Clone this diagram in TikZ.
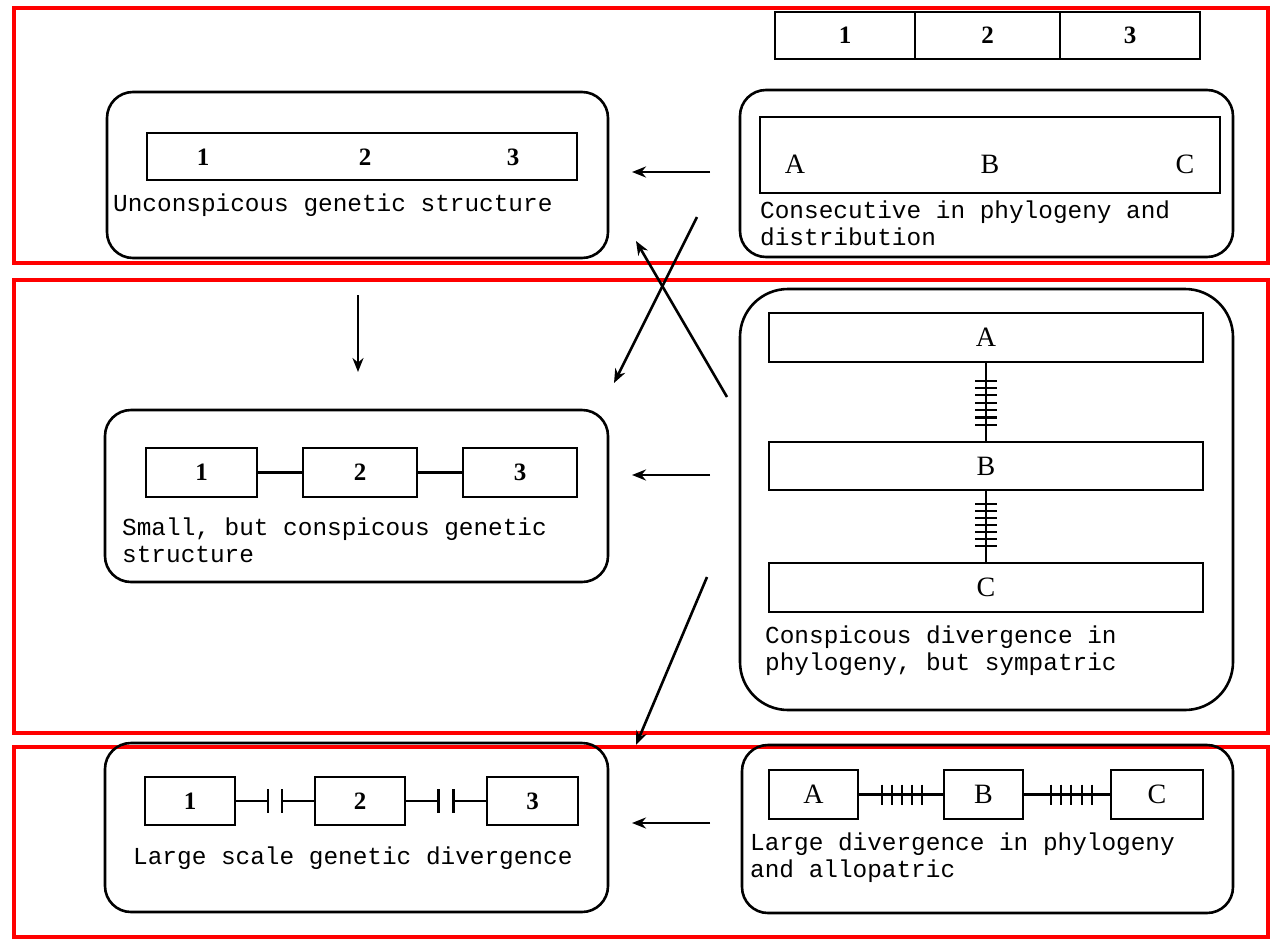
\documentclass[tikz,border=0pt]{standalone}
\usepackage{fontspec}
\setmainfont{Liberation Serif}
\newfontfamily\mymono{Liberation Mono}
\usetikzlibrary{arrows.meta,calc}
\begin{document}
\begin{tikzpicture}[x=1pt,y=-1pt,
  redframe/.style={draw=red, line width=4pt},
  rbox/.style={draw, line width=2.6pt, rounded corners=26pt, inner sep=0pt},
  cell/.style={draw, line width=2.2pt, inner sep=0pt},
  numtxt/.style={font=\fontsize{25}{25}\selectfont\bfseries, inner sep=0pt},
  lettxt/.style={font=\fontsize{28}{28}\selectfont, inner sep=0pt},
  lbl/.style={font=\mymono\fontsize{24.4}{27}\selectfont, align=left, anchor=base west, inner sep=0pt},
  arr/.style={line width=2.6pt, -{Stealth[length=14pt,width=11pt]}},
  linkline/.style={line width=2.2pt},
  tickmark/.style={line width=2.2pt}
]
\useasboundingbox (0,0) rectangle (1274,940);
\fill[white] (0,0) rectangle (1274,940);

% red frames
\draw[redframe] (14,8) rectangle (1268,263);
\draw[redframe] (14,280) rectangle (1268,733);
\draw[redframe] (14,747) rectangle (1268,937);

% top strip
\node[cell, minimum width=140pt, minimum height=47pt, numtxt] (s1) at (845,35.5) {1};
\node[cell, minimum width=145pt, minimum height=47pt, numtxt] (s2) at (987.5,35.5) {2};
\node[cell, minimum width=140pt, minimum height=47pt, numtxt] (s3) at (1130,35.5) {3};

% box 1
\node[rbox, minimum width=501pt, minimum height=166pt] (b1) at (357.5,175) {};
\node[cell, minimum width=430pt, minimum height=47pt] (r1) at (362,156.5) {};
\node[numtxt] (r1n1) at (203,157) {1};
\node[numtxt] (r1n2) at (365,157) {2};
\node[numtxt] (r1n3) at (513,157) {3};
\node[lbl] (t1) at (113,211) {Unconspicous genetic structure};

% box 2
\node[rbox, minimum width=493pt, minimum height=167pt] (b2) at (986.5,173.5) {};
\node[cell, minimum width=460pt, minimum height=76pt] (r2) at (990,155) {};
\node[lettxt] (r2a) at (795,164) {A};
\node[lettxt] (r2b) at (990,164) {B};
\node[lettxt] (r2c) at (1185,164) {C};
\node[lbl] (t2) at (760,245) {Consecutive in phylogeny and\\distribution};

% box 3
\node[rbox, rounded corners=48pt, minimum width=493pt, minimum height=421pt] (b3) at (986.5,499.5) {};
\node[cell, minimum width=434pt, minimum height=49pt, lettxt] (rA) at (986,337.5) {A};
\node[cell, minimum width=434pt, minimum height=48pt, lettxt] (rB) at (986,466) {B};
\node[cell, minimum width=434pt, minimum height=49pt, lettxt] (rC) at (986,587.5) {C};
\draw[linkline] (rA.south) -- (rB.north);
\draw[linkline] (rB.south) -- (rC.north);
\foreach \t in {0.225,0.32,0.415,0.51,0.605,0.70,0.795}
  \draw[tickmark] ($(rA.south)!\t!(rB.north)$) ++(-11,0) -- ++(22,0);
\foreach \t in {0.18,0.28,0.38,0.48,0.58,0.68,0.78}
  \draw[tickmark] ($(rB.south)!\t!(rC.north)$) ++(-11,0) -- ++(22,0);
\node[lbl] (t3) at (765,670) {Conspicous divergence in\\phylogeny, but sympatric};

% box 4
\node[rbox, minimum width=503pt, minimum height=172pt] (b4) at (356.5,496) {};
\node[cell, minimum width=111pt, minimum height=49pt, numtxt] (c1) at (201.5,472.5) {1};
\node[cell, minimum width=114pt, minimum height=49pt, numtxt] (c2) at (360,472.5) {2};
\node[cell, minimum width=114pt, minimum height=49pt, numtxt] (c3) at (520,472.5) {3};
\draw[linkline] (c1.east) -- (c2.west);
\draw[linkline] (c2.east) -- (c3.west);
\node[lbl] (t4) at (122,562) {Small, but conspicous genetic\\structure};

% box 5
\node[rbox, minimum width=503pt, minimum height=169pt] (b5) at (356.5,827.5) {};
\node[cell, minimum width=90pt, minimum height=48pt, numtxt] (d1) at (190,801) {1};
\node[cell, minimum width=90pt, minimum height=48pt, numtxt] (d2) at (360,801) {2};
\node[cell, minimum width=91pt, minimum height=48pt, numtxt] (d3) at (532.5,801) {3};
\coordinate (g1a) at ($(d1.east)!0.41!(d2.west)$);
\coordinate (g1b) at ($(d1.east)!0.59!(d2.west)$);
\coordinate (g2a) at ($(d2.east)!0.41!(d3.west)$);
\coordinate (g2b) at ($(d2.east)!0.59!(d3.west)$);
\draw[linkline] (d1.east) -- (g1a);
\draw[linkline] (g1b) -- (d2.west);
\draw[linkline] (d2.east) -- (g2a);
\draw[linkline] (g2b) -- (d3.west);
\foreach \c in {g1a,g1b,g2a,g2b}
  \draw[tickmark, line width=2.8pt] (\c) ++(0,-12) -- ++(0,24);
\node[lbl] (t5) at (133,864) {Large scale genetic divergence};

% box 6
\node[rbox, minimum width=491pt, minimum height=168pt] (b6) at (987.5,829) {};
\node[cell, minimum width=89pt, minimum height=49pt, lettxt] (e1) at (813.5,794.5) {A};
\node[cell, minimum width=79pt, minimum height=49pt, lettxt] (e2) at (983.5,794.5) {B};
\node[cell, minimum width=92pt, minimum height=49pt, lettxt] (e3) at (1157,794.5) {C};
\draw[linkline] (e1.east) -- (e2.west);
\draw[linkline] (e2.east) -- (e3.west);
\foreach \t in {0.27,0.39,0.51,0.63,0.75}
  \draw[tickmark] ($(e1.east)!\t!(e2.west)$) ++(0,-10) -- ++(0,20);
\foreach \t in {0.31,0.43,0.55,0.67,0.79}
  \draw[tickmark] ($(e2.east)!\t!(e3.west)$) ++(0,-10) -- ++(0,20);
\node[lbl] (t6) at (750,877) {Large divergence in phylogeny\\and allopatric};

% arrows
\coordinate (h1s) at (710,172); \coordinate (h1e) at (632,172);
\coordinate (h2s) at (710,475); \coordinate (h2e) at (632,475);
\coordinate (h3s) at (710,823); \coordinate (h3e) at (632,823);
\coordinate (vs) at (358,295);  \coordinate (ve) at (358,372);
\coordinate (x1s) at (697,217); \coordinate (x1e) at (614,383);
\coordinate (x2s) at (727,397); \coordinate (x2e) at (636,241);
\coordinate (ds) at (707,577);  \coordinate (de) at (636,745);
\draw[arr] (h1s) -- (h1e);
\draw[arr] (h2s) -- (h2e);
\draw[arr] (h3s) -- (h3e);
\draw[arr] (vs) -- (ve);
\draw[arr] (x1s) -- (x1e);
\draw[arr] (x2s) -- (x2e);
\draw[arr] (ds) -- (de);
\end{tikzpicture}
\end{document}
